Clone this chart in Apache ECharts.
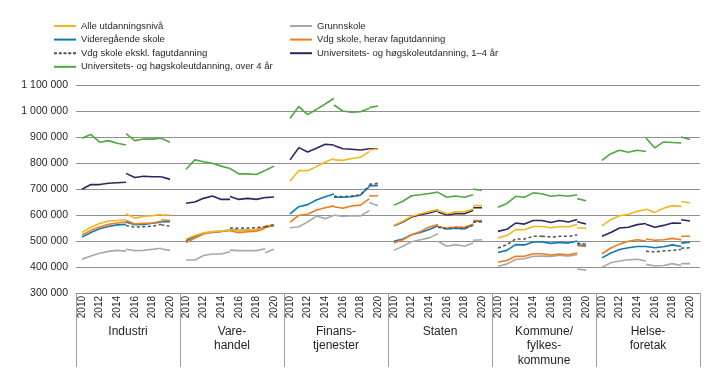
<!DOCTYPE html>
<html><head><meta charset="utf-8">
<script src="https://cdn.jsdelivr.net/npm/echarts@6/dist/echarts.min.js"></script>
<style>html,body{margin:0;padding:0;background:#fff}#c{width:719px;height:383px}</style>
</head><body><div id="c"></div>
<script>
const years = ['2010','2011','2012','2013','2014','2015','2016','2017','2018','2019','2020'];
const panels = ['Industri','Vare-\nhandel','Finans-\ntjenester','Staten','Kommune/\nfylkes-\nkommune','Helse-\nforetak'];
const seriesNames = ['Alle utdanningsnivå','Grunnskole','Videregående skole','Vdg skole, herav fagutdanning','Vdg skole ekskl. fagutdanning','Universitets- og høgskoleutdanning, 1–4 år','Universitets- og høgskoleutdanning, over 4 år'];
const yMin = 300000, yMax = 1100000, yStep = 100000;

// Each row: values 2010–2015 (6), then 2015–2019 (5), then 2019–2020 (2); row order as seriesNames
const industri = [
  [533e3,553e3,567e3,577e3,579e3,582e3, 605e3,588e3,595e3,597e3,603e3, 600e3,600e3],
  [430e3,442e3,453e3,460e3,464e3,461e3, 468e3,463e3,464e3,468e3,472e3, 469e3,464e3],
  [515e3,533e3,547e3,556e3,562e3,564e3, 573e3,563e3,564e3,568e3,572e3, 574e3,574e3],
  [523e3,541e3,554e3,564e3,569e3,574e3, 579e3,565e3,568e3,569e3,576e3, 582e3,579e3],
  [null,null,null,null,null,null,       560e3,553e3,555e3,557e3,564e3, 562e3,557e3],
  [699e3,717e3,717e3,722e3,724e3,726e3, 760e3,744e3,749e3,747e3,747e3, 747e3,737e3],
  [895e3,910e3,880e3,886e3,876e3,869e3, 913e3,886e3,892e3,892e3,895e3, 895e3,880e3]
];
const varehandel = [
  [508e3,521e3,532e3,536e3,538e3,542e3, 545e3,538e3,542e3,545e3,555e3, 558e3,563e3],
  [427e3,427e3,444e3,450e3,450e3,459e3, 465e3,463e3,463e3,463e3,470e3, 455e3,468e3],
  [501e3,517e3,530e3,533e3,537e3,541e3, 545e3,540e3,542e3,544e3,553e3, 553e3,559e3],
  [494e3,510e3,527e3,535e3,537e3,542e3, 540e3,532e3,536e3,538e3,549e3, 553e3,560e3],
  [null,null,null,null,null,null,       550e3,549e3,550e3,551e3,555e3, 555e3,562e3],
  [645e3,650e3,664e3,673e3,660e3,660e3, 671e3,660e3,664e3,660e3,667e3, 667e3,669e3],
  [776e3,812e3,805e3,799e3,788e3,779e3, 779e3,758e3,758e3,756e3,771e3, 771e3,788e3]
];
const finans = [
  [731e3,771e3,770e3,786e3,804e3,817e3, 812e3,810e3,817e3,822e3,844e3, 850e3,854e3],
  [551e3,555e3,573e3,596e3,586e3,599e3, 600e3,594e3,597e3,596e3,617e3, 648e3,636e3],
  [604e3,632e3,640e3,658e3,670e3,681e3, 668e3,668e3,670e3,676e3,709e3, 712e3,714e3],
  [573e3,599e3,603e3,619e3,628e3,635e3, 632e3,626e3,635e3,638e3,662e3, 673e3,674e3],
  [null,null,null,null,null,null,       672e3,670e3,673e3,678e3,713e3, 718e3,722e3],
  [812e3,859e3,842e3,857e3,872e3,869e3, 867e3,855e3,853e3,850e3,855e3, 855e3,854e3],
  [972e3,1017e3,986e3,1006e3,1027e3,1049e3, 1023e3,1000e3,995e3,997e3,1010e3, 1013e3,1019e3]
];
const staten = [
  [560e3,576e3,595e3,605e3,613e3,621e3, 617e3,605e3,612e3,612e3,623e3, 636e3,636e3],
  [464e3,480e3,497e3,505e3,512e3,528e3, 499e3,480e3,486e3,480e3,492e3, 503e3,505e3],
  [499e3,508e3,524e3,533e3,544e3,559e3, 556e3,546e3,549e3,546e3,563e3, 576e3,576e3],
  [492e3,505e3,524e3,537e3,554e3,563e3, 556e3,550e3,554e3,553e3,565e3, 579e3,579e3],
  [null,null,null,null,null,null,       553e3,547e3,550e3,549e3,560e3, 572e3,574e3],
  [559e3,573e3,592e3,601e3,608e3,617e3, 612e3,600e3,605e3,605e3,618e3, 628e3,628e3],
  [638e3,653e3,674e3,678e3,683e3,688e3, 687e3,668e3,673e3,668e3,678e3, 700e3,694e3]
];
const kommune = [
  [512e3,521e3,544e3,543e3,556e3,556e3, 556e3,551e3,556e3,555e3,564e3, 551e3,549e3],
  [403e3,411e3,429e3,432e3,441e3,442e3, 442e3,441e3,445e3,442e3,447e3, 392e3,388e3],
  [456e3,464e3,486e3,485e3,496e3,496e3, 496e3,491e3,494e3,492e3,500e3, 486e3,482e3],
  [419e3,425e3,441e3,441e3,451e3,451e3, 451e3,446e3,450e3,447e3,454e3, 482e3,479e3],
  [473e3,486e3,508e3,508e3,518e3,518e3, 518e3,515e3,518e3,518e3,523e3, 492e3,488e3],
  [537e3,545e3,569e3,565e3,579e3,579e3, 579e3,571e3,579e3,573e3,583e3, 574e3,565e3],
  [630e3,644e3,672e3,668e3,685e3,682e3, 682e3,672e3,676e3,672e3,678e3, 663e3,655e3]
];
const helse = [
  [559e3,582e3,597e3,603e3,614e3,621e3, 623e3,610e3,626e3,636e3,633e3, 651e3,647e3],
  [399e3,416e3,423e3,428e3,430e3,423e3, 410e3,404e3,406e3,413e3,406e3, 413e3,413e3],
  [435e3,454e3,467e3,474e3,479e3,479e3, 479e3,474e3,478e3,485e3,479e3, 492e3,495e3],
  [451e3,473e3,488e3,499e3,505e3,500e3, 508e3,503e3,505e3,510e3,505e3, 518e3,518e3],
  [null,null,null,null,null,null,       461e3,458e3,462e3,464e3,467e3, 472e3,474e3],
  [518e3,533e3,550e3,553e3,563e3,567e3, 564e3,553e3,560e3,569e3,568e3, 582e3,577e3],
  [810e3,836e3,849e3,841e3,849e3,844e3, 896e3,858e3,881e3,879e3,877e3, 900e3,890e3]
];

const panelData = [industri, varehandel, finans, staten, kommune, helse];
const colors = ['#F8B51B','#A8A8A8','#0B7BB4','#F07C1E','#505050','#2C2565','#4DA83D'];
const drawOrder = [1,6,5,2,3,0,4];
const FONT = "'Liberation Sans',Arial,sans-serif";
const segments = [[0,5,0],[5,9,6],[9,10,11]];
const SOLID_ICON = 'path://M0,0h22v2h-22z';
const DASH_ICON = 'path://M0,0h3v2h-3zM4.75,0h3v2h-3zM9.5,0h3v2h-3zM14.25,0h3v2h-3zM19,0h3v2h-3z';

const GL = 76, PW = 104, TOP = 85, BOTTOM = 90;
const grids = [{left: GL, width: PW*6, top: TOP, bottom: BOTTOM}];
const xAxes = [{
  type:'category', gridIndex:0, data: panels, boundaryGap:true,
  axisLine:{show:true, lineStyle:{color:'#8a8a8a', width:1}},
  axisTick:{show:true, length:74, lineStyle:{color:'#a0a0a0', width:1}},
  axisLabel:{interval:0, margin:31, fontSize:12, lineHeight:14.5, color:'#231f20', fontFamily:FONT}
}];
const yAxes = [{
  type:'value', gridIndex:0, min:yMin, max:yMax, interval:yStep,
  axisLine:{show:false}, axisTick:{show:false},
  splitLine:{lineStyle:{color:'#8f8f8f', width:1}},
  axisLabel:{margin:8, fontSize:10.5, color:'#231f20', fontFamily:FONT,
    formatter: v => String(v).replace(/\B(?=(\d{3})+(?!\d))/g,' ')}
}];
for (let p=0;p<6;p++){
  grids.push({left: GL + PW*p + 6, width: 88, top: TOP, bottom: BOTTOM});
  xAxes.push({type:'category', gridIndex:p+1, data: years, boundaryGap:false,
    axisLine:{show:false}, axisTick:{show:false},
    axisLabel:{interval:1, rotate:90, margin:3, fontSize:10, color:'#231f20', fontFamily:FONT}});
  yAxes.push({type:'value', gridIndex:p+1, min:yMin, max:yMax, interval:yStep, show:false,
    splitLine:{show:false}});
}
const series = [];
panelData.forEach((rows,p)=>{
  drawOrder.forEach((s,k)=>{
    const row = rows[s];
    segments.forEach(([st,en,off])=>{
      const data = years.map((y,i)=> (i>=st && i<=en) ? row[off+i-st] : null);
      if (data.every(v=>v===null)) return;
      series.push({
        type:'line', name: seriesNames[s], xAxisIndex:p+1, yAxisIndex:p+1,
        data, symbol:'none', connectNulls:false, z: 2+k,
        lineStyle:{color:colors[s], width: s===4 ? 1.5 : 1.6, type: s===4 ? [3,2.5] : 'solid'},
        itemStyle:{color:colors[s]}, emphasis:{disabled:true}
      });
    });
  });
});
const legendItem = i => ({name: seriesNames[i], icon: i===4 ? DASH_ICON : SOLID_ICON,
  itemStyle:{color: colors[i], borderWidth:0}});
const legendCommon = {orient:'vertical', itemWidth:22, itemHeight:2, itemGap:3.6, padding:0,
  selectedMode:false, textStyle:{fontSize:9.5, lineHeight:10, color:'#231f20', fontFamily:FONT}};
const option = {
  animation:false, backgroundColor:'#fff',
  legend:[
    Object.assign({left:54, top:21, data:[0,2,4,6].map(legendItem)}, legendCommon),
    Object.assign({left:290, top:21, data:[1,3,5].map(legendItem)}, legendCommon)
  ],
  grid: grids, xAxis: xAxes, yAxis: yAxes, series
};
const chart = echarts.init(document.getElementById('c'), null, {renderer:'canvas'});
chart.setOption(option);
</script></body></html>
